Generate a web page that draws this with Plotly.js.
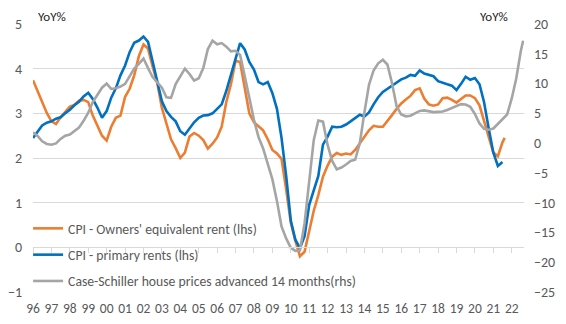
<!DOCTYPE html>
<html>
<head>
<meta charset="utf-8">
<script src="https://cdn.plot.ly/plotly-3.0.1.min.js"></script>
<style>html,body{margin:0;padding:0;background:#fff;}#chart{width:566px;height:324px;}</style>
</head>
<body>
<div id="chart"></div>
<script>
// Quarterly observation dates (Jan, Apr, Jul, Oct) from 1996 to mid-2022
const quarterDates = [];
for (let y = 1996; y <= 2022; y++) {
  for (const m of ['01', '04', '07', '10']) quarterDates.push(y + '-' + m + '-01');
}

// CPI - Owners' equivalent rent, YoY % (lhs), quarterly readings 1996-01 .. 2021-07, then 2021-08
const oer = [
  3.74, 3.50, 3.27, 3.01, 2.82, 2.76, 2.91, 3.02, 3.15, 3.19, 3.28, 3.30,
  3.25, 2.95, 2.74, 2.50, 2.39, 2.70, 2.90, 2.95, 3.37, 3.55, 3.85, 4.28,
  4.54, 4.45, 4.05, 3.68, 3.12, 2.78, 2.42, 2.22, 2.00, 2.12, 2.48, 2.56,
  2.50, 2.40, 2.21, 2.32, 2.46, 2.70, 3.25, 3.65, 4.18, 4.15, 3.60, 3.00,
  2.80, 2.71, 2.62, 2.42, 2.18, 2.10, 1.98, 1.30, 0.55, 0.15, -0.20, -0.10,
  0.38, 0.82, 1.17, 1.58, 1.83, 2.03, 2.11, 2.07, 2.10, 2.08, 2.18, 2.33,
  2.48, 2.62, 2.72, 2.70, 2.70, 2.82, 2.96, 3.10, 3.22, 3.31, 3.39, 3.52,
  3.56, 3.33, 3.20, 3.17, 3.20, 3.34, 3.35, 3.30, 3.24, 3.32, 3.40, 3.40,
  3.34, 3.18, 2.83, 2.50, 2.12, 2.04, 2.35
];
const oerLastDate = '2021-08-15';
const oerLastValue = 2.45;

// CPI - primary rents, YoY % (lhs), quarterly readings 1996-01 .. 2021-07
const rents = [
  2.45, 2.60, 2.73, 2.79, 2.82, 2.88, 2.91, 3.00, 3.08, 3.18, 3.26, 3.38,
  3.46, 3.32, 3.13, 2.90, 3.05, 3.35, 3.56, 3.85, 4.07, 4.37, 4.58, 4.63,
  4.72, 4.60, 4.15, 3.68, 3.27, 3.05, 2.92, 2.82, 2.60, 2.52, 2.67, 2.80,
  2.90, 2.95, 2.96, 3.00, 3.10, 3.20, 3.50, 3.85, 4.25, 4.57, 4.43, 4.15,
  3.98, 3.70, 3.65, 3.70, 3.45, 3.10, 2.45, 1.60, 0.60, 0.17, -0.02, 0.25,
  0.95, 1.25, 1.60, 2.30, 2.48, 2.70, 2.69, 2.70, 2.75, 2.82, 2.90, 2.97,
  2.93, 3.02, 3.20, 3.36, 3.48, 3.55, 3.60, 3.69, 3.76, 3.80, 3.86, 3.84,
  3.96, 3.89, 3.86, 3.83, 3.72, 3.68, 3.65, 3.62, 3.52, 3.66, 3.82, 3.75,
  3.79, 3.65, 3.25, 2.66, 2.12, 1.82, 1.91
];

// Case-Schiller house prices advanced 14 months, YoY % (rhs), quarterly 1996-01 .. 2022-07, then 2022-08
const caseShiller = [
  1.8, 1.2, 0.3, -0.15, -0.27, -0.05, 0.7, 1.25, 1.45, 2.1, 2.6, 3.75,
  5.1, 6.9, 8.2, 9.3, 10.0, 9.1, 9.2, 9.5, 9.95, 11.3, 12.5, 13.3,
  14.2, 12.6, 11.1, 10.2, 9.3, 7.7, 7.6, 9.9, 11.3, 12.5, 11.6, 10.5,
  10.9, 12.6, 15.8, 17.2, 16.6, 16.8, 16.2, 15.4, 15.5, 14.8, 11.3, 7.6,
  3.9, 1.0, -0.9, -3.5, -6.1, -9.7, -14.0, -16.0, -17.6, -18.1, -18.0, -13.5,
  -6.0, 0.5, 3.8, 3.6, -0.3, -3.0, -4.4, -4.1, -3.6, -3.0, -2.8, 0.0,
  5.2, 9.8, 12.2, 13.4, 14.0, 13.2, 10.1, 6.2, 4.8, 4.5, 4.6, 5.05,
  5.4, 5.5, 5.3, 5.2, 5.25, 5.3, 5.55, 5.9, 6.3, 6.55, 6.47, 6.1,
  4.9, 3.3, 2.4, 2.25, 2.45, 3.25, 3.9, 4.8, 7.5, 10.9, 15.5
];
const csLastDate = '2022-08-15';
const csLastValue = 17.2;

// Axis labels
const yearTickVals = [];
const yearTickText = ['96','97','98','99','00','01','02','03','04','05','06','07','08','09','10','11','12','13','14','15','16','17','18','19','20','21','22'];
for (let i = 0; i < yearTickText.length; i++) yearTickVals.push((1996 + i) + '-01-01');
const seriesNames = ["CPI - Owners' equivalent rent (lhs)", "CPI - primary rents (lhs)", "Case-Schiller house prices advanced 14 months(rhs)"];
const axisUnit = 'YoY%';

const FONT = "Calibri, Carlito, 'Liberation Sans', Arial, sans-serif";
const GREY_TXT = '#595959';
const GRID = '#D9D9D9';

const traces = [
  {
    x: quarterDates.slice(0, oer.length).concat([oerLastDate]),
    y: oer.concat([oerLastValue]),
    name: seriesNames[0], type: 'scatter', mode: 'lines',
    line: {color: '#ED7D31', width: 2.6},
    xaxis: 'x', yaxis: 'y', legendgroup: 'a'
  },
  {
    x: quarterDates.slice(0, rents.length),
    y: rents,
    name: seriesNames[1], type: 'scatter', mode: 'lines',
    line: {color: '#0070C0', width: 2.6},
    xaxis: 'x', yaxis: 'y', legendgroup: 'b'
  },
  {
    x: quarterDates.slice(0, caseShiller.length).concat([csLastDate]),
    y: caseShiller.concat([csLastValue]),
    name: seriesNames[2], type: 'scatter', mode: 'lines',
    line: {color: '#A5A5A5', width: 2.6},
    xaxis: 'x', yaxis: 'y2', legendgroup: 'c'
  },
  {
    // invisible helper so the zero-line tick axis is drawn
    x: ['1996-01-01'], y: [0], type: 'scatter', mode: 'markers',
    marker: {opacity: 0}, showlegend: false, hoverinfo: 'skip',
    xaxis: 'x2', yaxis: 'y'
  }
];

const xRange = ['1996-01-01', '2022-09-01'];

const layout = {
  width: 566, height: 324,
  margin: {l: 33, r: 42, t: 24, b: 32},
  paper_bgcolor: '#ffffff', plot_bgcolor: '#ffffff',
  font: {family: FONT, color: GREY_TXT, size: 13},
  showlegend: true,
  legend: {
    x: -0.01, y: 0.295, xanchor: 'left', yanchor: 'top',
    bgcolor: 'rgba(0,0,0,0)', borderwidth: 0,
    font: {family: FONT, size: 13.7, color: GREY_TXT},
    traceorder: 'grouped', tracegroupgap: 5.5,
    itemwidth: 30
  },
  xaxis: {
    type: 'date', range: xRange,
    tickmode: 'array', tickvals: yearTickVals, ticktext: yearTickText,
    showgrid: false, zeroline: false, showline: false,
    ticks: '', ticklabelstandoff: 6,
    tickfont: {family: FONT, size: 13.5, color: GREY_TXT}
  },
  xaxis2: {
    type: 'date', range: xRange, overlaying: 'x', anchor: 'free', position: 1/6,
    tickmode: 'array', tickvals: yearTickVals,
    showticklabels: false, showgrid: false, zeroline: false,
    showline: true, linecolor: GRID, linewidth: 1,
    ticks: 'outside', ticklen: 5, tickcolor: GRID, tickwidth: 1
  },
  yaxis: {
    range: [-1, 5], tickmode: 'linear', tick0: -1, dtick: 1,
    showgrid: true, gridcolor: GRID, gridwidth: 1,
    zeroline: false, showline: false, ticks: '',
    ticklabelstandoff: 10,
    tickfont: {family: FONT, size: 14, color: GREY_TXT}
  },
  yaxis2: {
    range: [-25, 20], tickmode: 'linear', tick0: -25, dtick: 5,
    overlaying: 'y', side: 'right',
    showgrid: false, zeroline: false, showline: false, ticks: '',
    ticklabelstandoff: 9,
    tickfont: {family: FONT, size: 14, color: GREY_TXT}
  },
  annotations: [
    {text: axisUnit, xref: 'paper', yref: 'paper', x: 0.007, y: 1, xanchor: 'left', yanchor: 'bottom',
     showarrow: false, yshift: -2, font: {family: FONT, size: 13, color: '#262626'}},
    {text: axisUnit, xref: 'paper', yref: 'paper', x: 0.972, y: 1, xanchor: 'right', yanchor: 'bottom',
     showarrow: false, yshift: -2, font: {family: FONT, size: 13, color: '#262626'}}
  ]
};

Plotly.newPlot('chart', traces, layout, {staticPlot: true, displayModeBar: false});
</script>
</body>
</html>
